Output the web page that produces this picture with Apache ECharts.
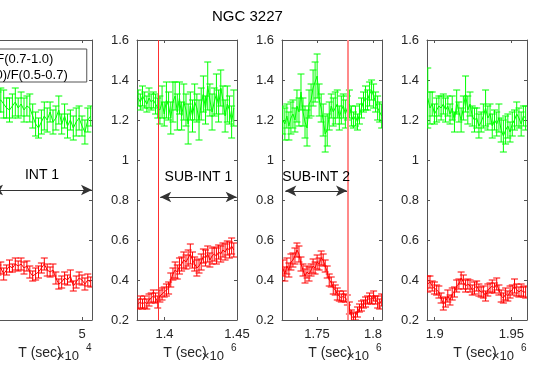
<!DOCTYPE html>
<html>
<head>
<meta charset="utf-8">
<script src="https://cdn.jsdelivr.net/npm/echarts@6/dist/echarts.min.js"></script>
<style>
  html, body { margin: 0; padding: 0; background: #fff; }
  #chart { width: 538px; height: 365px; }
</style>
</head>
<body>
<div id="chart"></div>
<script>
const greenName = 'F(2-10)/F(0.7-1.0)';
const redName = 'F(1.0-2.0)/F(0.5-0.7)';

// x range of every panel (sec) and the labelled ticks
const xRanges = [[41000, 51000], [1381000, 1450000], [1718750, 1808000], [1895000, 1960200]];
const xTicks = [[50000], [1400000, 1450000], [1750000, 1800000], [1900000, 1950000]];
const xExponent = [4, 6, 6, 6];

// time bins: first bin centre and bin size
const startTimes = [41300, 1381800, 1719500, 1895500];
const binSizes = [290, 1500, 1800, 1450];

const green1 = [1.31,1.29,1.30,1.28,1.26,1.25,1.27,1.29,1.26,1.28,1.25,1.27,1.26,1.22,1.18,1.16,1.19,1.22,1.20,1.24,1.19,1.21,1.25,1.18,1.22,1.17,1.20,1.16,1.19,1.21,1.17,1.14,1.20,1.22];
const greenErr1 = [0.06,0.05,0.06,0.07,0.05,0.06,0.06,0.07,0.05,0.06,0.06,0.05,0.07,0.06,0.06,0.05,0.06,0.07,0.06,0.05,0.06,0.06,0.07,0.05,0.06,0.06,0.05,0.06,0.07,0.06,0.05,0.06,0.06,0.05];
const red1 = [0.46,0.45,0.46,0.43,0.45,0.47,0.46,0.48,0.47,0.48,0.46,0.47,0.44,0.42,0.43,0.44,0.46,0.48,0.45,0.44,0.45,0.41,0.38,0.39,0.41,0.40,0.42,0.37,0.39,0.41,0.40,0.38,0.40,0.39];
const redErr1 = [0.03,0.025,0.03,0.03,0.025,0.03,0.02,0.03,0.025,0.03,0.03,0.025,0.03,0.025,0.03,0.03,0.025,0.03,0.03,0.025,0.03,0.03,0.025,0.03,0.03,0.025,0.03,0.025,0.03,0.03,0.025,0.03,0.03,0.025];

const green2 = [1.31,1.29,1.32,1.30,1.28,1.31,1.29,1.30,1.28,1.26,1.25,1.29,1.23,1.30,1.27,1.21,1.29,1.32,1.24,1.31,1.22,1.29,1.25,1.18,1.27,1.22,1.29,1.26,1.20,1.28,1.33,1.25,1.37,1.30,1.24,1.29,1.33,1.27,1.36,1.30,1.22,1.28,1.25,1.19,1.26];
const greenErr2 = [0.04,0.04,0.05,0.04,0.04,0.05,0.04,0.04,0.05,0.05,0.07,0.08,0.06,0.09,0.07,0.08,0.10,0.07,0.09,0.08,0.07,0.09,0.08,0.10,0.07,0.08,0.09,0.07,0.10,0.08,0.09,0.07,0.12,0.08,0.09,0.07,0.10,0.08,0.09,0.07,0.08,0.09,0.07,0.08,0.09];
const red2 = [0.28,0.29,0.28,0.29,0.28,0.30,0.31,0.32,0.31,0.29,0.32,0.33,0.34,0.35,0.36,0.40,0.43,0.45,0.44,0.47,0.48,0.50,0.49,0.51,0.53,0.50,0.48,0.46,0.47,0.49,0.52,0.51,0.53,0.50,0.52,0.53,0.52,0.54,0.53,0.55,0.54,0.56,0.55,0.57,0.55];
const redErr2 = [0.025,0.03,0.025,0.03,0.025,0.03,0.025,0.03,0.025,0.03,0.03,0.03,0.025,0.03,0.03,0.035,0.03,0.04,0.035,0.04,0.035,0.04,0.035,0.04,0.05,0.04,0.035,0.04,0.035,0.04,0.035,0.04,0.04,0.035,0.04,0.035,0.04,0.035,0.04,0.035,0.04,0.035,0.04,0.04,0.035];

const green3 = [1.20,1.18,1.22,1.17,1.21,1.23,1.20,1.27,1.24,1.34,1.24,1.19,1.16,1.28,1.30,1.36,1.39,1.42,1.30,1.26,1.20,1.13,1.15,1.22,1.27,1.24,1.26,1.28,1.21,1.25,1.27,1.23,1.26,1.28,1.22,1.20,1.22,1.19,1.23,1.26,1.29,1.31,1.30,1.33,1.35,1.32,1.29,1.26,1.24,1.22];
const greenErr3 = [0.07,0.08,0.06,0.07,0.08,0.07,0.06,0.08,0.07,0.09,0.07,0.08,0.09,0.07,0.08,0.09,0.10,0.11,0.08,0.07,0.08,0.09,0.08,0.07,0.06,0.07,0.08,0.07,0.06,0.07,0.06,0.07,0.06,0.07,0.05,0.04,0.05,0.04,0.05,0.05,0.05,0.06,0.05,0.06,0.05,0.06,0.05,0.06,0.05,0.06];
const red3 = [0.46,0.43,0.47,0.45,0.49,0.50,0.52,0.55,0.53,0.48,0.45,0.42,0.44,0.43,0.45,0.47,0.46,0.49,0.48,0.51,0.50,0.47,0.44,0.40,0.39,0.36,0.35,0.33,0.32,0.31,0.32,0.31,0.30,0.26,0.22,0.21,0.22,0.24,0.26,0.27,0.28,0.29,0.30,0.31,0.30,0.32,0.30,0.29,0.28,0.30];
const redErr3 = [0.04,0.035,0.04,0.035,0.04,0.035,0.04,0.035,0.04,0.035,0.03,0.035,0.03,0.035,0.03,0.035,0.03,0.035,0.03,0.035,0.03,0.03,0.03,0.03,0.025,0.03,0.025,0.03,0.025,0.02,0.025,0.02,0.025,0.03,0.03,0.025,0.02,0.025,0.02,0.025,0.02,0.025,0.02,0.025,0.02,0.025,0.02,0.03,0.025,0.03];

const green4 = [1.31,1.26,1.28,1.23,1.25,1.27,1.26,1.28,1.25,1.27,1.23,1.26,1.19,1.29,1.24,1.20,1.26,1.33,1.25,1.28,1.22,1.20,1.21,1.17,1.19,1.22,1.26,1.21,1.23,1.17,1.20,1.18,1.21,1.15,1.12,1.15,1.17,1.14,1.18,1.20,1.23,1.21,1.18,1.22,1.21];
const greenErr4 = [0.15,0.08,0.06,0.05,0.06,0.05,0.06,0.05,0.06,0.05,0.05,0.06,0.05,0.06,0.05,0.06,0.06,0.09,0.07,0.06,0.05,0.06,0.05,0.06,0.05,0.06,0.09,0.06,0.05,0.06,0.05,0.06,0.07,0.06,0.08,0.07,0.06,0.05,0.06,0.05,0.06,0.05,0.06,0.05,0.06];
const red4 = [0.38,0.39,0.37,0.36,0.35,0.34,0.31,0.28,0.29,0.32,0.30,0.33,0.34,0.37,0.38,0.41,0.39,0.37,0.38,0.37,0.35,0.36,0.37,0.35,0.34,0.34,0.32,0.35,0.36,0.37,0.36,0.38,0.35,0.32,0.31,0.33,0.32,0.34,0.35,0.37,0.35,0.34,0.35,0.34,0.34];
const redErr4 = [0.04,0.03,0.025,0.03,0.025,0.03,0.025,0.03,0.025,0.03,0.025,0.03,0.025,0.03,0.025,0.03,0.035,0.03,0.025,0.03,0.025,0.03,0.025,0.03,0.025,0.03,0.025,0.03,0.025,0.03,0.025,0.03,0.025,0.03,0.025,0.03,0.025,0.03,0.025,0.035,0.03,0.025,0.03,0.025,0.03];

const greens = [green1, green2, green3, green4];
const greenErrs = [greenErr1, greenErr2, greenErr3, greenErr4];
const reds = [red1, red2, red3, red4];
const redErrs = [redErr1, redErr2, redErr3, redErr4];

// vertical markers and interval arrows
const splitTimes = [null, 1395800, 1777700, null];
const arrowLabels = ['INT 1', 'SUB-INT 1', 'SUB-INT 2', null];
const arrowFrom = [41000, 1397000, 1721700, null];
const arrowTo = [51000, 1449800, 1776800, null];
const arrowLevel = [0.85, 0.815, 0.846, null];

// layout
const gridLefts = [-8, 137, 282, 427];
const gridWidth = 100;
const gridTop = 40;
const gridHeight = 280;
const FONT = '"Liberation Sans", Arial, Helvetica, sans-serif';
const AXIS = '#555';
const TEXT = '#262626';
const labelGaps = [8, 13, 7];
const splitWidths = [0, 1, 2];
const splitColors = ['', '#ff3030', '#ff8a8a'];

function toPoints(panel, vals, errs) {
  return vals.map((v, i) => [startTimes[panel] + i * binSizes[panel], v, errs[i]]);
}

function errorBars(panel, data, color) {
  return {
    type: 'custom',
    xAxisIndex: panel * 2,
    yAxisIndex: panel * 2,
    silent: true,
    clip: true,
    encode: { x: 0, y: 1 },
    renderItem(params, api) {
      const x = api.value(0), y = api.value(1), e = api.value(2);
      const hi = api.coord([x, y + e]);
      const lo = api.coord([x, y - e]);
      const w = 3.5;
      const style = { stroke: color, lineWidth: 1, fill: null };
      return {
        type: 'group',
        children: [
          { type: 'line', shape: { x1: hi[0], y1: hi[1], x2: lo[0], y2: lo[1] }, style },
          { type: 'line', shape: { x1: hi[0] - w, y1: hi[1], x2: hi[0] + w, y2: hi[1] }, style },
          { type: 'line', shape: { x1: lo[0] - w, y1: lo[1], x2: lo[0] + w, y2: lo[1] }, style }
        ]
      };
    },
    data
  };
}

const grid = [], xAxis = [], yAxis = [], series = [], graphic = [];

gridLefts.forEach((left, p) => {
  grid.push({
    left, top: gridTop, width: gridWidth, height: gridHeight,
    show: false, containLabel: false, outerBoundsMode: 'none'
  });
  const scale = Math.pow(10, xExponent[p]);
  const [xmin, xmax] = xRanges[p];
  const tickCommon = { inside: true, length: 3, lineStyle: { color: AXIS } };

  xAxis.push({
    type: 'value', gridIndex: p, position: 'bottom', min: xmin, max: xmax,
    axisLine: { show: true, lineStyle: { color: AXIS, width: 1 } },
    axisTick: Object.assign({ customValues: xTicks[p] }, tickCommon),
    axisLabel: {
      customValues: xTicks[p], margin: 8, color: TEXT, fontSize: 13, fontFamily: FONT,
      formatter: v => String(Math.round(v / scale * 100) / 100)
    },
    splitLine: { show: false },
    name: 'T (sec)', nameLocation: 'middle', nameGap: 26,
    nameTextStyle: { color: TEXT, fontSize: 14, fontFamily: FONT, padding: [0, 4, 0, 0] }
  });
  xAxis.push({
    type: 'value', gridIndex: p, position: 'top', min: xmin, max: xmax,
    axisLine: { show: true, lineStyle: { color: AXIS, width: 1 } },
    axisTick: Object.assign({ customValues: xTicks[p] }, tickCommon),
    axisLabel: { show: false }, splitLine: { show: false }
  });
  yAxis.push({
    type: 'value', gridIndex: p, position: 'left', min: 0.2, max: 1.6, interval: 0.2,
    axisLine: { show: true, lineStyle: { color: AXIS, width: 1 } },
    axisTick: tickCommon,
    axisLabel: { margin: 8, color: TEXT, fontSize: 13, fontFamily: FONT },
    splitLine: { show: false }
  });
  yAxis.push({
    type: 'value', gridIndex: p, position: 'right', min: 0.2, max: 1.6, interval: 0.2,
    axisLine: { show: true, lineStyle: { color: AXIS, width: 1 } },
    axisTick: tickCommon,
    axisLabel: { show: false }, splitLine: { show: false }
  });

  const gData = toPoints(p, greens[p], greenErrs[p]);
  const rData = toPoints(p, reds[p], redErrs[p]);

  const greenLine = {
    name: greenName, type: 'line', xAxisIndex: p * 2, yAxisIndex: p * 2,
    data: gData.map(d => [d[0], d[1]]), symbol: 'none', silent: true,
    lineStyle: { color: '#00ff00', width: 1 }, itemStyle: { color: '#00ff00' }
  };
  if (arrowLabels[p]) {
    greenLine.markLine = {
      silent: true, symbol: ['arrow', 'arrow'], symbolSize: [8, 11],
      lineStyle: { color: '#333', width: 1, type: 'solid' },
      label: {
        show: true, position: 'middle', distance: labelGaps[p], color: '#000',
        fontSize: 14, fontFamily: FONT, formatter: arrowLabels[p]
      },
      data: [[{ coord: [arrowFrom[p], arrowLevel[p]] }, { coord: [arrowTo[p], arrowLevel[p]] }]]
    };
  }
  const redLine = {
    name: redName, type: 'line', xAxisIndex: p * 2, yAxisIndex: p * 2,
    data: rData.map(d => [d[0], d[1]]), symbol: 'none', silent: true,
    lineStyle: { color: '#ff0000', width: 1 }, itemStyle: { color: '#ff0000' }
  };
  if (splitTimes[p]) {
    redLine.markLine = {
      silent: true, symbol: 'none', label: { show: false },
      lineStyle: { color: splitColors[p], width: splitWidths[p], type: 'solid' },
      data: [{ xAxis: splitTimes[p] }]
    };
  }
  series.push(greenLine, errorBars(p, gData, '#00ff00'), redLine, errorBars(p, rData, '#ff0000'));

  // x10^n multiplier at the right end of each x axis
  const right = left + gridWidth;
  graphic.push({
    type: 'text', left: right - 35, top: 350,
    style: { text: '×10', fill: TEXT, font: '13px ' + FONT }
  });
  graphic.push({
    type: 'text', left: right - 6, top: 343,
    style: { text: String(xExponent[p]), fill: TEXT, font: '10px ' + FONT }
  });
});

const option = {
  animation: false,
  backgroundColor: '#fff',
  title: {
    text: 'NGC 3227', left: 212, top: 9, padding: 0,
    textStyle: { color: '#000', fontSize: 15, fontWeight: 'normal', fontFamily: FONT }
  },
  legend: {
    orient: 'vertical', left: -86, top: 49, padding: [4, 19, 0, 5],
    itemWidth: 25, itemHeight: 14, itemGap: 3,
    backgroundColor: '#fff', borderColor: AXIS, borderWidth: 1,
    textStyle: { color: '#000', fontSize: 13, fontFamily: FONT },
    data: [greenName, redName]
  },
  grid, xAxis, yAxis, series, graphic
};

const chart = echarts.init(document.getElementById('chart'));
chart.setOption(option);
</script>
</body>
</html>
